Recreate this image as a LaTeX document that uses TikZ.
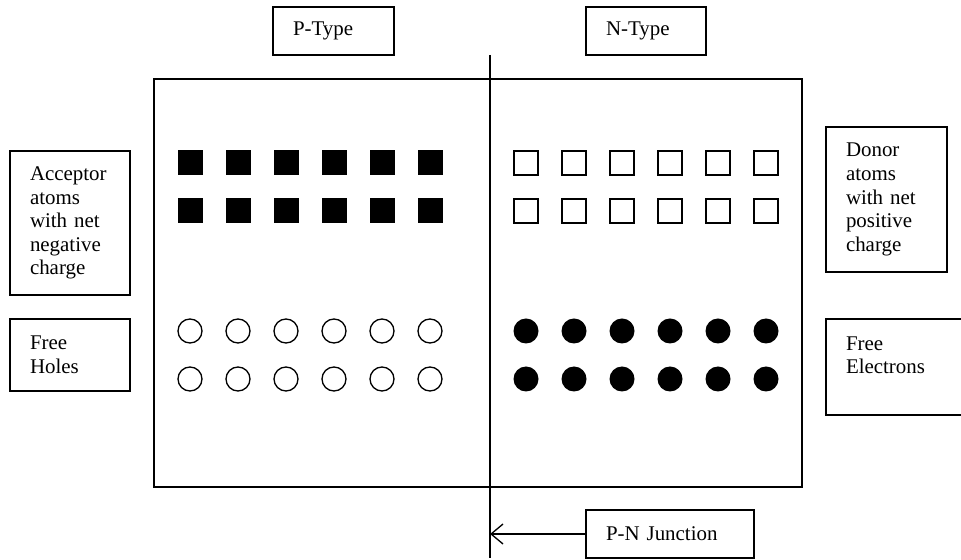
\documentclass[tikz,border=0pt]{standalone}
\usepackage{fontspec}
\setmainfont{Liberation Serif}
\usetikzlibrary{arrows.meta}

\tikzset{
  labelbox/.style={draw, line width=0.75pt, inner xsep=0.4cm, inner ysep=0pt, align=left},
  ion/.style={line width=0.75pt},
}

\begin{document}
\begin{tikzpicture}[>={Straight Barb[length=2.4mm,width=4mm]}, every node/.style={font=\fontsize{11.9}{13.4}\selectfont}]
  \useasboundingbox (0,0) rectangle (19.22,11.2);
  % crystal block and junction line
  \draw[line width=0.75pt] (3.08,1.46) rectangle (16.04,9.62);
  \coordinate (jtop) at (9.80,10.10);
  \coordinate (jbot) at (9.80,0.04);
  \draw[line width=0.75pt] (jtop) -- (jbot);
  % region titles
  \node[labelbox, text width=1.62cm, minimum height=0.96cm] (ptype) at (6.67,10.58) {P-Type};
  \node[labelbox, text width=1.60cm, minimum height=0.96cm] (ntype) at (12.92,10.58) {N-Type};
  % side labels
  \node[labelbox, text width=1.60cm, minimum height=2.88cm] (acceptor) at (1.40,6.74) {Acceptor\\atoms\\with net\\negative\\charge};
  \node[labelbox, text width=1.60cm, minimum height=1.44cm] (holes) at (1.40,4.10) {Free\\Holes};
  \node[labelbox, text width=1.62cm, minimum height=2.90cm] (donor) at (17.73,7.21) {Donor\\atoms\\with net\\positive\\charge};
  \node[labelbox, text width=1.96cm, minimum height=1.92cm] (electrons) at (17.90,3.86) {Free\\Electrons\\\mbox{}};
  % ions: acceptors filled, donors open
  \foreach \i in {0,...,5} {
    \foreach \y in {7.94,6.98} {
      \fill (3.80+0.96*\i-0.25,\y-0.25) rectangle ++(0.5,0.5);
      \draw[ion] (10.52+0.96*\i-0.24,\y-0.24) rectangle ++(0.48,0.48);
    }
  }
  % carriers: holes open, electrons filled
  \foreach \i in {0,...,5} {
    \foreach \y in {4.58,3.62} {
      \draw[ion] (3.80+0.96*\i,\y) circle (0.24);
      \fill (10.52+0.96*\i,\y) circle (0.25);
    }
  }
  % junction label
  \node[labelbox, text width=2.56cm, minimum height=0.96cm] (pn) at (13.40,0.52) {P-N Junction};
  \draw[->, line width=0.75pt] (pn.west) -- (pn.west -| jtop);
\end{tikzpicture}
\end{document}
